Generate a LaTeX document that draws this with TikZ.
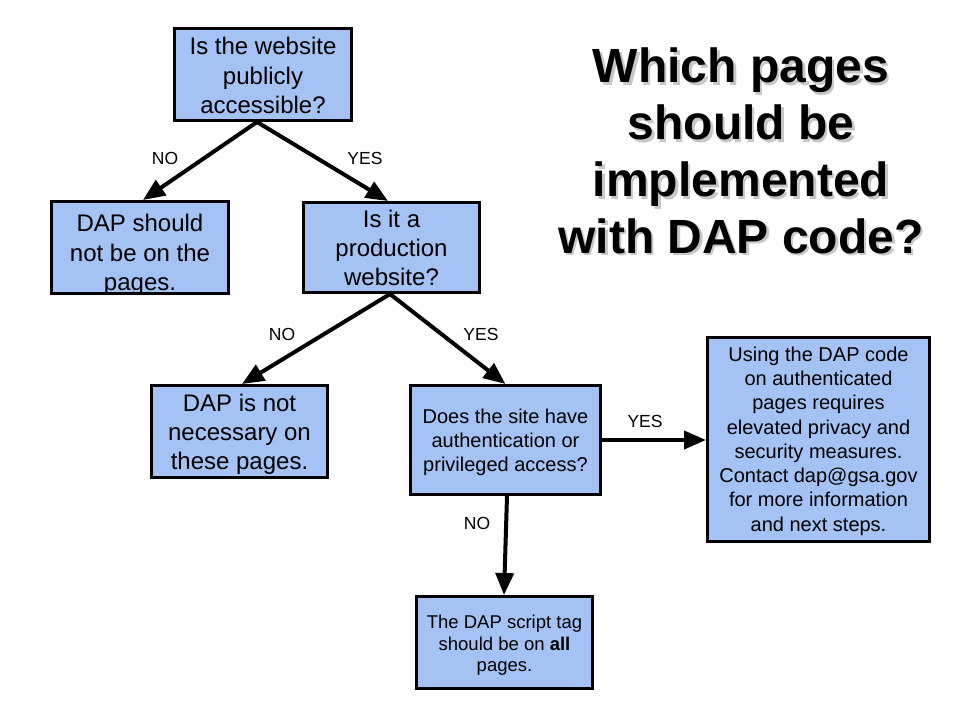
\documentclass[tikz,border=0pt]{standalone}
\usepackage{fontspec}
\setmainfont{Liberation Sans}
\usetikzlibrary{arrows.meta}
\definecolor{boxblue}{HTML}{A4C2F4}
\tikzset{
  box/.style={draw=black, line width=3pt, fill=boxblue, inner sep=0pt, rectangle},
  boxtxt/.style={align=center, inner sep=0pt, text=black},
  bigtxt/.style={boxtxt, font=\fontsize{24}{29.5}\selectfont},
  medtxt/.style={boxtxt, font=\fontsize{20}{24.3}\selectfont},
  smalltxt/.style={boxtxt, font=\fontsize{18.5}{21.5}\selectfont},
  lbl/.style={inner sep=0pt, font=\fontsize{17.5}{20}\selectfont},
  arr/.style={line width=4pt, -{Triangle[length=22pt, width=18pt]}},
  titletxt/.style={align=center, inner sep=0pt, font=\fontsize{48}{56.7}\selectfont\bfseries},
}
\begin{document}
\begin{tikzpicture}[x=1pt, y=-1pt]
\useasboundingbox (0,0) rectangle (960,720);
\fill[white] (0,0) rectangle (960,720);

% title with soft shadow
\node[titletxt, text=black, opacity=0.22] (shadow) at (743.5,153.5) {Which pages\\should be\\implemented\\with DAP code?};
\node[titletxt, text=black] (title) at (741,150.8) {Which pages\\should be\\implemented\\with DAP code?};

% boxes
\node[box, minimum width=177pt, minimum height=92pt] (b1) at (263,74.5) {};
\node[box, minimum width=177pt, minimum height=92pt] (b2) at (140,247.5) {};
\node[box, minimum width=176pt, minimum height=90pt] (b3) at (391.5,247.5) {};
\node[box, minimum width=176pt, minimum height=92pt] (b4) at (239.5,431.5) {};
\node[box, minimum width=190pt, minimum height=109pt] (b5) at (505.5,440) {};
\node[box, minimum width=222pt, minimum height=204pt] (b6) at (818.5,439.5) {};
\node[box, minimum width=176pt, minimum height=92pt] (b7) at (504.5,642.5) {};

% box texts
\node[bigtxt] (t1) at (263,75.5) {Is the website\\publicly\\accessible?};
\node[bigtxt] (t2) at (140,254.9) {DAP should\\not be on the\\pages.};
\node[bigtxt, font=\fontsize{24}{29}\selectfont] (t3) at (391.5,248) {Is it a\\production\\website?};
\node[bigtxt, font=\fontsize{24}{29}\selectfont] (t4) at (239.5,434.5) {DAP is not\\necessary on\\these pages.};
\node[medtxt, font=\fontsize{20}{24}\selectfont] (t5) at (505.5,442) {Does the site have\\authentication or\\privileged access?};
\node[medtxt] (t6) at (818.5,441) {Using the DAP code\\on authenticated\\pages requires\\elevated privacy and\\security measures.\\Contact dap@gsa.gov\\for more information\\and next steps.};
\node[smalltxt] (t7) at (504.5,645.4) {The DAP script tag\\should be on \textbf{all}\\pages.};

% connectors
\draw[arr] ([xshift=-6pt]b1.south) -- ([xshift=3pt]b2.north);
\draw[arr] ([xshift=-6pt]b1.south) -- ([xshift=-3.5pt]b3.north);
\draw[arr] ([xshift=-1.5pt]b3.south) -- ([xshift=2.5pt]b4.north);
\draw[arr] ([xshift=-1.5pt]b3.south) -- (b5.north);
\draw[arr] (b5.east) -- (b5.east -| b6.west);
\draw[arr] ([xshift=1.5pt]b5.south) -- ([xshift=-0.5pt]b7.north);

% labels
\node[lbl] (l1) at (165,158) {NO};
\node[lbl] (l2) at (365,158) {YES};
\node[lbl] (l3) at (282,334) {NO};
\node[lbl] (l4) at (481,334) {YES};
\node[lbl] (l5) at (645,421) {YES};
\node[lbl] (l6) at (477,523) {NO};
\end{tikzpicture}
\end{document}
